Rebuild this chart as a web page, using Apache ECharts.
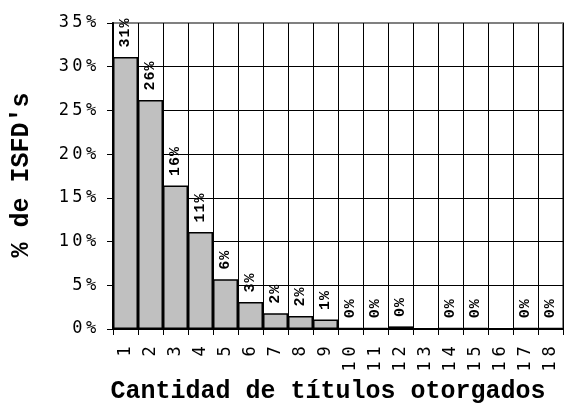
<!DOCTYPE html>
<html>
<head>
<meta charset="utf-8">
<script src="https://cdn.jsdelivr.net/npm/echarts@6/dist/echarts.min.js"></script>
<style>html,body{margin:0;padding:0;background:#fff}#c{width:574px;height:414px}</style>
</head>
<body>
<div id="c"></div>
<script>
var categories = ['1','2','3','4','5','6','7','8','9','10','11','12','13','14','15','16','17','18'];
var values = [31.1, 26.2, 16.4, 11.1, 5.7, 3.1, 1.8, 1.5, 1.1, 0.1, 0.1, 0.3, null, 0.1, 0.1, null, 0.1, 0.1];
var yTicks = [0, 5, 10, 15, 20, 25, 30, 35];
var xTitle = 'Cantidad de títulos otorgados';
var yTitle = "% de ISFD's";

function spaced(s) {
  return String(s).split('').map(function (ch) { return '{c|' + ch + '}'; }).join('');
}

var chart = echarts.init(document.getElementById('c'), null, {renderer: 'canvas'});
chart.setOption({
  animation: false,
  backgroundColor: '#fff',
  grid: {left: 113, right: 11, top: 23, bottom: 85, show: true, borderColor: '#808080', borderWidth: 2, backgroundColor: 'transparent'},
  xAxis: {
    type: 'category',
    data: categories,
    boundaryGap: true,
    axisLine: {lineStyle: {color: '#000', width: 2}},
    axisTick: {show: true, length: 6, interval: 0, lineStyle: {color: '#000', width: 1}},
    splitLine: {show: true, interval: 0, lineStyle: {color: '#000', width: 1}},
    axisLabel: {
      interval: 0, rotate: 90, margin: 15,
      formatter: function (v) { return spaced(v); },
      rich: {c: {fontFamily: 'DejaVu Sans Mono', fontSize: 17, color: '#000', width: 15, align: 'center'}}
    }
  },
  yAxis: {
    type: 'value',
    min: yTicks[0], max: yTicks[yTicks.length - 1], interval: 5,
    axisLine: {show: true, lineStyle: {color: '#000', width: 2}},
    axisTick: {show: true, length: 6, lineStyle: {color: '#000', width: 1}},
    splitLine: {show: true, lineStyle: {color: ['#000','#000','#000','#000','#000','#000','#000','#808080'], width: 1}},
    axisLabel: {
      margin: 15,
      formatter: function (v) { return spaced(v + '%'); },
      rich: {c: {fontFamily: 'DejaVu Sans Mono', fontSize: 17, color: '#000', width: 13.7, align: 'center'}}
    }
  },
  series: [{
    type: 'bar',
    data: values,
    barCategoryGap: '0%',
    itemStyle: {color: '#c0c0c0', borderColor: '#000', borderWidth: 1.5},
    label: {
      show: true,
      position: 'top',
      rotate: 90,
      align: 'left',
      verticalAlign: 'middle',
      distance: 9,
      formatter: function (p) { return p.value == null ? '' : spaced(Math.round(p.value) + '%'); },
      rich: {c: {fontFamily: 'Liberation Mono', fontWeight: 'bold', fontSize: 15, color: '#000', width: 10, align: 'center'}}
    }
  }],
  graphic: [
    {type: 'text', x: 22, y: 175, rotation: Math.PI / 2,
     style: {text: yTitle, fontFamily: 'Liberation Mono', fontWeight: 'bold', fontSize: 25, fill: '#000', align: 'center', verticalAlign: 'middle'}},
    {type: 'text', x: 328, y: 392,
     style: {text: xTitle, fontFamily: 'Liberation Mono', fontWeight: 'bold', fontSize: 25, fill: '#000', align: 'center', verticalAlign: 'middle'}}
  ]
});
</script>
</body>
</html>
